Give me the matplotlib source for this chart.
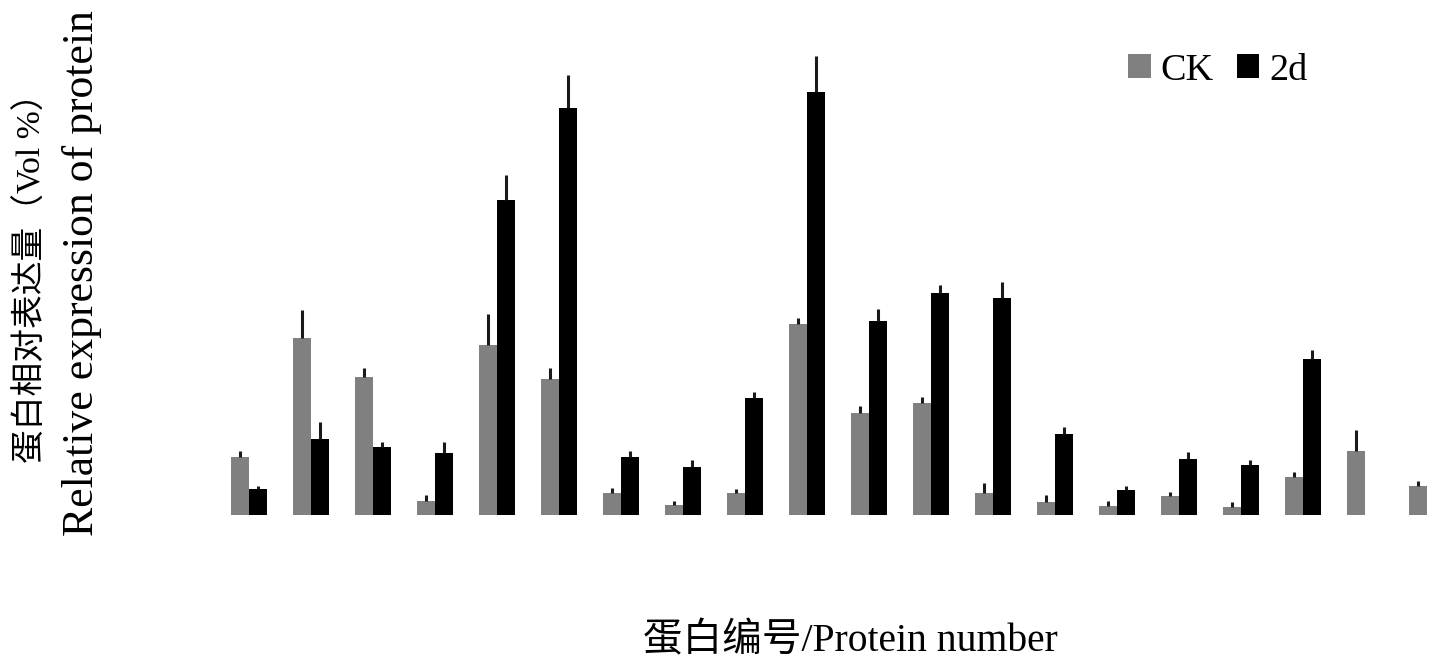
import matplotlib
matplotlib.use("Agg")
import matplotlib.pyplot as plt
from matplotlib.patches import Patch
import numpy as np

plt.rcParams['font.family'] = ['Liberation Serif', 'Noto Sans CJK SC', 'DejaVu Sans']

proteins = list(range(1, 21))
ck_vals = [0.58, 1.77, 1.38, 0.14, 1.70, 1.36, 0.22, 0.10, 0.22, 1.91,
           1.02, 1.12, 0.22, 0.13, 0.09, 0.19, 0.08, 0.38, 0.64, 0.29]
ck_err = [0.06, 0.28, 0.09, 0.06, 0.31, 0.11, 0.05, 0.04, 0.04, 0.06,
          0.07, 0.06, 0.10, 0.07, 0.05, 0.04, 0.05, 0.05, 0.21, 0.05]
d2_vals = [0.26, 0.76, 0.68, 0.62, 3.15, 4.07, 0.58, 0.48, 1.17, 4.23,
           1.94, 2.22, 2.17, 0.81, 0.25, 0.56, 0.50, 1.56, 0.0, 0.0]
d2_err = [0.03, 0.17, 0.05, 0.11, 0.25, 0.33, 0.06, 0.07, 0.06, 0.36,
          0.12, 0.08, 0.16, 0.07, 0.04, 0.07, 0.05, 0.09, 0.0, 0.0]

W, H = 1430, 661
fig = plt.figure(figsize=(W / 100, H / 100), dpi=100)
base = 515
ax = fig.add_axes([0, (H - base) / H, 1, base / H])

x = np.arange(len(proteins))
bw = 18 / 62
ax.bar(x - bw / 2, ck_vals, bw, color='#808080', linewidth=0)
ax.bar(x + bw / 2, d2_vals, bw, color='#000000', linewidth=0)
for xi, v, e in zip(x - bw / 2, ck_vals, ck_err):
    if v > 0 and e > 0:
        ax.plot([xi, xi], [v, v + e], color='#1a1a1a', lw=2.2, solid_capstyle='butt')
for xi, v, e in zip(x + bw / 2, d2_vals, d2_err):
    if v > 0 and e > 0:
        ax.plot([xi, xi], [v, v + e], color='#1a1a1a', lw=2.2, solid_capstyle='butt')

xmin = -249 / 62
ax.set_xlim(xmin, xmin + W / 62)
ax.set_ylim(0, base / 100)
ax.axis('off')

handles = [Patch(facecolor='#808080', edgecolor='none', label='CK'),
           Patch(facecolor='#000000', edgecolor='none', label='2d')]
fig.legend(handles=handles, loc='upper left', bbox_to_anchor=(1128 / W, 1 - 53 / H),
           ncol=2, frameon=False, fontsize=27.5, handlelength=0.6, handleheight=0.6,
           handletextpad=0.25, columnspacing=0.6, borderpad=0, borderaxespad=0)

fig.text(32 / W, 1 - 270 / H, '蛋白相对表达量（Vol %）', rotation=90,
         ha='center', va='center', fontsize=24.3)
fig.text(82 / W, 1 - 273 / H, 'Relative expression of protein', rotation=90,
         ha='center', va='center', fontsize=31.5)
fig.text(850 / W, 1 - 642 / H, '蛋白编号/Protein number',
         ha='center', va='center', fontsize=28.5)

fig.savefig('out.png', dpi=100)
